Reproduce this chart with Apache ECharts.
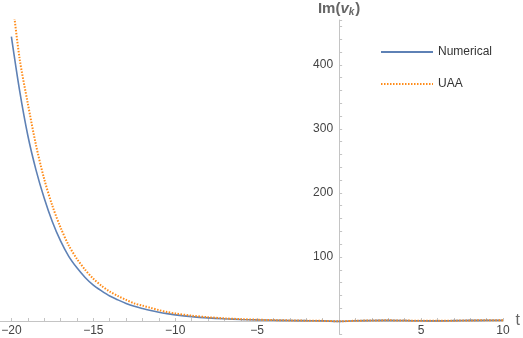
<!DOCTYPE html>
<html>
<head>
<meta charset="utf-8">
<script src="https://cdn.jsdelivr.net/npm/echarts@6/dist/echarts.min.js"></script>
<style>
  html, body { margin: 0; padding: 0; background: #fff; }
  #chart { width: 523px; height: 338px; }
</style>
</head>
<body>
<div id="chart"></div>
<script>
var tValues = [-20, -19.5, -19, -18.5, -18, -17.5, -17, -16.5, -16, -15.5, -15, -14.5, -14, -13.5, -13, -12.5, -12, -11.5, -11, -10.5, -10,
    -9, -8, -7, -6, -5, -4, -3, -2, -1, 0, 1, 2, 3, 4, 5, 6, 7, 8, 9, 10];
var numerical = [444, 360, 290, 236, 192, 155, 125, 101, 83, 68, 56, 47, 39, 33, 27.5, 23, 19.5, 16.3, 13.7, 11.5, 9.6,
    6.8, 4.8, 3.4, 2.4, 1.7, 1.2, 0.8, 0.5, 0.2, -0.6, 0.3, 0.8, 1, 0.7, 0.3, 0.2, 0.5, 0.9, 1.1, 1.2];
var uaa = [515, 410, 340, 275, 222, 180, 146, 118, 97, 80, 66, 55, 46, 39, 33, 27.5, 24, 20.5, 17, 14, 11.8,
    8.3, 5.9, 4.1, 2.9, 2, 1.4, 0.9, 0.5, 0.2, -0.4, 0.3, 0.8, 1, 0.7, 0.3, 0.2, 0.5, 0.9, 1.1, 1.2];
var xLabels = [-20, -15, -10, -5, 5, 10];
var yLabels = [100, 200, 300, 400];

var font = '"Liberation Sans", Arial, sans-serif';
var axisGray = '#c4c4c4';
var W = 523, H = 338;
var gridLeft = -5, gridRight = 20, gridTop = 20, gridBottom = 4.2;
var xMin = -21, xMax = 10, yMin = -20, yMax = 470;
// pixel offsets that put each axis through the origin
var yAxisShift = (0 - xMin) / (xMax - xMin) * (W - gridLeft - gridRight);
var xAxisShift = (0 - yMin) / (yMax - yMin) * (H - gridTop - gridBottom);

function pairs(ys) {
    return tValues.map(function (t, i) { return [t, ys[i]]; });
}

var chart = echarts.init(document.getElementById('chart'));
chart.setOption({
    animation: false,
    backgroundColor: '#fff',
    grid: { left: gridLeft, right: gridRight, top: gridTop, bottom: gridBottom, containLabel: false, outerBoundsMode: 'none' },
    legend: {
        orient: 'vertical',
        left: 380,
        top: 46,
        padding: 0,
        itemWidth: 52,
        itemHeight: 12,
        itemGap: 20,
        itemStyle: { opacity: 0 },
        textStyle: { fontFamily: font, fontSize: 12, color: '#333' },
        data: ['Numerical', 'UAA']
    },
    xAxis: {
        type: 'value',
        min: xMin,
        max: xMax,
        interval: 1,
        position: 'bottom',
        offset: -xAxisShift,
        name: 't',
        nameLocation: 'end',
        nameGap: 11,
        nameTextStyle: { fontFamily: font, fontSize: 16, color: '#666', verticalAlign: 'middle', padding: [4, 0, 0, 0] },
        axisLine: { onZero: false, lineStyle: { color: axisGray, width: 1 } },
        axisTick: { show: true, inside: true, length: 3, interval: 0, lineStyle: { color: axisGray } },
        splitLine: { show: false },
        axisLabel: {
            interval: 0,
            margin: 4,
            fontFamily: font,
            fontSize: 12,
            color: '#444',
            formatter: function (v) {
                if (xLabels.indexOf(v) < 0) return '';
                return v < 0 ? '\u2212' + Math.abs(v) : String(v);
            }
        }
    },
    yAxis: {
        type: 'value',
        min: yMin,
        max: yMax,
        interval: 20,
        position: 'left',
        offset: -yAxisShift,
        name: '{a|Im(}{v|v}{k|k}{a|)}',
        nameLocation: 'end',
        nameGap: 3,
        nameTextStyle: {
            rich: {
                a: { fontFamily: font, fontSize: 15, fontWeight: 'bold', color: '#666' },
                v: { fontFamily: font, fontSize: 15, fontWeight: 'bold', fontStyle: 'italic', color: '#666' },
                k: { fontFamily: font, fontSize: 10, fontWeight: 'bold', fontStyle: 'italic', color: '#666', padding: [7, 1, 0, 0] }
            }
        },
        axisLine: { show: true, onZero: false, lineStyle: { color: axisGray, width: 1 } },
        axisTick: { show: true, inside: true, length: 3, interval: 0, lineStyle: { color: axisGray } },
        splitLine: { show: false },
        axisLabel: {
            interval: 0,
            margin: 6,
            fontFamily: font,
            fontSize: 12,
            color: '#444',
            formatter: function (v) {
                return yLabels.indexOf(v) < 0 ? '' : String(v);
            }
        }
    },
    series: [
        {
            name: 'Numerical',
            type: 'line',
            symbol: 'none',
            smooth: 0.3,
            clip: true,
            data: pairs(numerical),
            color: '#5E81B5',
            lineStyle: { color: '#5E81B5', width: 1.6 }
        },
        {
            name: 'UAA',
            type: 'line',
            symbol: 'none',
            smooth: 0.3,
            clip: true,
            data: pairs(uaa),
            color: '#FF8C1A',
            lineStyle: { color: '#FF8C1A', width: 2, type: [1.5, 1.5] }
        }
    ]
});
</script>
</body>
</html>
